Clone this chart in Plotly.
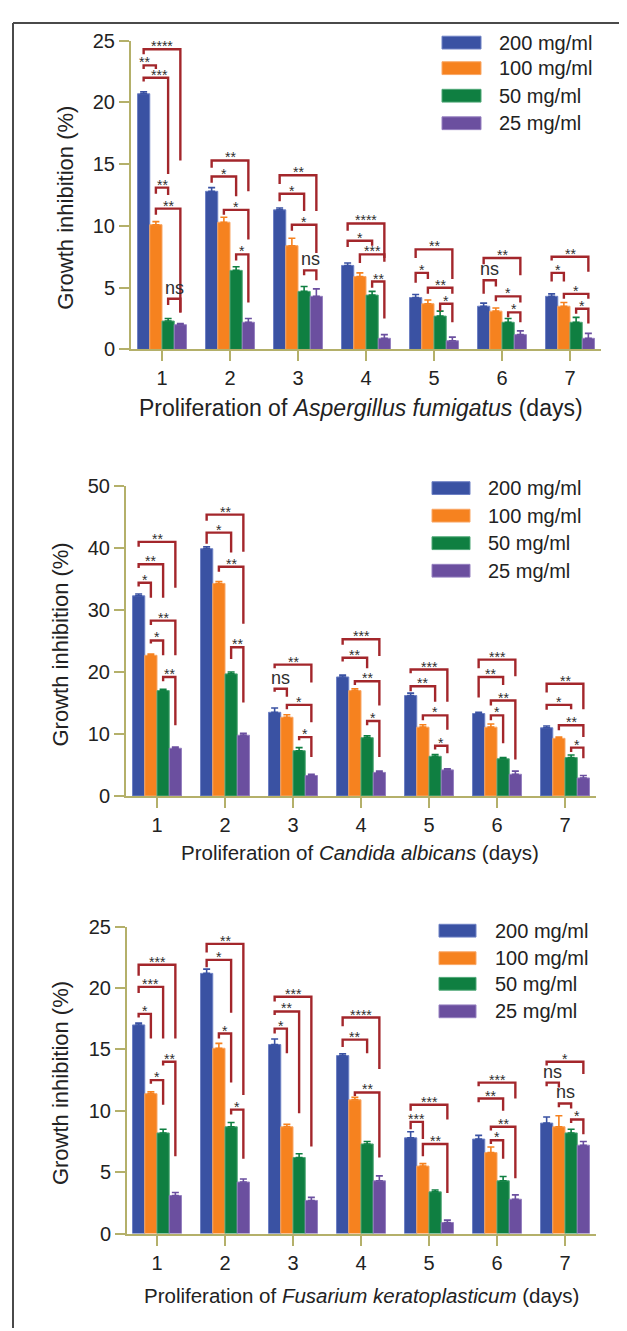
import plotly.graph_objects as go

W, H = 627, 1331

days = [1, 2, 3, 4, 5, 6, 7]
series_names = ["200 mg/ml", "100 mg/ml", "50 mg/ml", "25 mg/ml"]
bar_colors = ["#3a52a3", "#f6821f", "#0f7f41", "#6b4f9f"]
edge_colors = ["#6d80c4", "#f9a766", "#4fa877", "#9680c0"]

# ---------- Panel 1: Aspergillus fumigatus ----------
asp_200 = [20.7, 12.8, 11.3, 6.8, 4.2, 3.5, 4.3]
asp_100 = [10.1, 10.3, 8.4, 5.9, 3.7, 3.1, 3.5]
asp_50 = [2.3, 6.4, 4.7, 4.4, 2.7, 2.2, 2.2]
asp_25 = [2.0, 2.2, 4.3, 0.9, 0.7, 1.2, 0.9]
asp_200_err = [0.15, 0.3, 0.15, 0.2, 0.25, 0.25, 0.2]
asp_100_err = [0.25, 0.4, 0.6, 0.3, 0.3, 0.25, 0.3]
asp_50_err = [0.2, 0.3, 0.4, 0.3, 0.4, 0.3, 0.4]
asp_25_err = [0.1, 0.3, 0.6, 0.3, 0.3, 0.3, 0.4]
asp_yticks = [0, 5, 10, 15, 20, 25]
# (day, from bar, to bar, label, bracket height, left leg end, right leg end)
asp_brackets = [
    (1, 0, 3, "****", 24.3, 23.9, 15.3), (1, 0, 1, "**", 23.0, 22.7, 22.7),
    (1, 0, 2, "***", 22.0, 21.7, 14.2), (1, 1, 2, "**", 13.1, 12.6, 12.5),
    (1, 1, 3, "**", 11.4, 10.9, 3.0), (1, 2, 3, "ns", 4.1, 3.6, 3.0),
    (2, 0, 3, "**", 15.3, 14.7, 12.8), (2, 0, 2, "*", 14.0, 13.5, 12.4),
    (2, 1, 3, "*", 11.3, 10.9, 8.9), (2, 2, 3, "*", 7.7, 7.2, 3.8),
    (3, 0, 3, "**", 14.1, 13.4, 11.2), (3, 0, 2, "*", 12.6, 12.0, 11.2),
    (3, 1, 3, "*", 10.1, 9.6, 7.8), (3, 2, 3, "ns", 6.4, 6.0, 5.6),
    (4, 0, 3, "****", 10.2, 9.6, 7.4), (4, 0, 2, "*", 8.8, 8.3, 8.4),
    (4, 1, 3, "***", 7.7, 7.0, 7.1), (4, 2, 3, "**", 5.5, 5.0, 2.5),
    (5, 0, 3, "**", 8.1, 7.4, 5.7), (5, 0, 1, "*", 6.2, 5.4, 5.7),
    (5, 1, 3, "**", 5.0, 4.5, 4.5), (5, 2, 3, "*", 3.7, 3.1, 2.2),
    (6, 0, 3, "**", 7.4, 6.9, 6.0), (6, 0, 1, "ns", 5.6, 4.5, 5.1),
    (6, 1, 3, "*", 4.3, 3.9, 3.8), (6, 2, 3, "*", 3.0, 2.6, 2.2),
    (7, 0, 3, "**", 7.5, 7.2, 6.3), (7, 0, 1, "*", 6.2, 5.5, 5.5),
    (7, 1, 3, "*", 4.5, 4.1, 4.1), (7, 2, 3, "*", 3.3, 2.9, 2.1),
]

# ---------- Panel 2: Candida albicans ----------
can_200 = [32.3, 39.9, 13.5, 19.2, 16.2, 13.3, 11.0]
can_100 = [22.7, 34.3, 12.7, 17.0, 11.1, 11.1, 9.3]
can_50 = [17.0, 19.7, 7.3, 9.4, 6.4, 6.0, 6.2]
can_25 = [7.7, 9.8, 3.3, 3.8, 4.2, 3.5, 2.9]
can_200_err = [0.3, 0.3, 0.7, 0.3, 0.4, 0.2, 0.3]
can_100_err = [0.2, 0.3, 0.4, 0.3, 0.4, 0.5, 0.2]
can_50_err = [0.2, 0.3, 0.5, 0.3, 0.3, 0.2, 0.4]
can_25_err = [0.2, 0.3, 0.2, 0.2, 0.2, 0.5, 0.4]
can_yticks = [0, 10, 20, 30, 40, 50]
can_brackets = [
    (1, 0, 3, "**", 41.0, 40.2, 33.6), (1, 0, 2, "**", 37.4, 36.8, 32.0),
    (1, 0, 1, "*", 34.4, 33.8, 32.0), (1, 1, 3, "**", 28.3, 27.6, 22.7),
    (1, 1, 2, "*", 25.1, 24.6, 22.7), (1, 2, 3, "**", 19.2, 18.5, 11.4),
    (2, 0, 3, "**", 45.4, 44.4, 39.4), (2, 0, 2, "*", 42.5, 40.7, 39.3),
    (2, 1, 3, "**", 37.0, 36.2, 27.8), (2, 2, 3, "**", 24.0, 22.1, 15.1),
    (3, 0, 3, "**", 21.2, 20.6, 18.3), (3, 0, 1, "ns", 17.3, 16.8, 16.0),
    (3, 1, 3, "*", 14.7, 14.0, 11.9), (3, 2, 3, "*", 9.5, 9.0, 6.3),
    (4, 0, 3, "***", 25.3, 24.4, 22.6), (4, 0, 2, "**", 22.3, 21.7, 20.6),
    (4, 1, 3, "**", 18.5, 17.9, 14.6), (4, 2, 3, "*", 12.1, 11.4, 6.3),
    (5, 0, 3, "***", 20.4, 19.8, 15.2), (5, 0, 2, "**", 17.7, 16.9, 15.2),
    (5, 1, 3, "*", 13.0, 12.2, 10.7), (5, 2, 3, "*", 8.1, 7.5, 6.9),
    (6, 0, 3, "***", 22.0, 20.6, 19.3), (6, 0, 2, "**", 19.2, 15.9, 17.9),
    (6, 1, 3, "**", 15.4, 14.6, 5.9), (6, 1, 2, "*", 13.0, 12.2, 8.5),
    (7, 0, 3, "**", 18.1, 16.7, 14.0), (7, 0, 2, "*", 14.7, 13.9, 14.0),
    (7, 1, 3, "**", 11.4, 10.6, 9.5), (7, 2, 3, "*", 7.8, 7.1, 6.1),
]

# ---------- Panel 3: Fusarium keratoplasticum ----------
fus_200 = [17.0, 21.2, 15.4, 14.5, 7.8, 7.7, 9.0]
fus_100 = [11.4, 15.1, 8.7, 10.9, 5.5, 6.6, 8.7]
fus_50 = [8.2, 8.7, 6.2, 7.3, 3.4, 4.3, 8.2]
fus_25 = [3.1, 4.2, 2.7, 4.3, 0.9, 2.8, 7.2]
fus_200_err = [0.15, 0.35, 0.45, 0.15, 0.5, 0.3, 0.5]
fus_100_err = [0.15, 0.4, 0.2, 0.2, 0.2, 0.45, 0.9]
fus_50_err = [0.3, 0.35, 0.3, 0.2, 0.15, 0.35, 0.3]
fus_25_err = [0.25, 0.25, 0.25, 0.4, 0.2, 0.35, 0.3]
fus_yticks = [0, 5, 10, 15, 20, 25]
fus_brackets = [
    (1, 0, 3, "***", 21.9, 21.0, 15.9), (1, 0, 2, "***", 20.1, 19.6, 15.9),
    (1, 0, 1, "*", 17.9, 17.6, 15.9), (1, 2, 3, "**", 14.0, 13.7, 6.3),
    (1, 1, 2, "*", 12.5, 12.2, 10.5),
    (2, 0, 3, "**", 23.6, 22.9, 11.3), (2, 0, 2, "*", 22.3, 21.7, 18.0),
    (2, 1, 2, "*", 16.3, 15.9, 12.3), (2, 2, 3, "*", 10.1, 9.7, 6.1),
    (3, 0, 3, "***", 19.3, 18.9, 7.1), (3, 0, 2, "**", 18.1, 17.8, 9.8),
    (3, 0, 1, "*", 16.7, 16.3, 14.7),
    (4, 0, 3, "****", 17.6, 16.9, 13.4), (4, 0, 2, "**", 15.8, 15.2, 14.7),
    (4, 1, 3, "**", 11.5, 11.2, 6.2),
    (5, 0, 3, "***", 10.5, 10.0, 9.3), (5, 0, 1, "***", 9.1, 8.5, 7.7),
    (5, 1, 3, "**", 7.3, 6.3, 3.3),
    (6, 0, 3, "***", 12.3, 12.0, 11.0), (6, 0, 2, "**", 11.0, 10.7, 10.0),
    (6, 1, 3, "**", 8.7, 8.4, 4.5), (6, 1, 2, "*", 7.6, 7.3, 6.1),
    (7, 0, 3, "*", 14.0, 13.7, 13.0), (7, 0, 1, "ns", 12.3, 12.0, 11.9),
    (7, 1, 2, "ns", 10.6, 10.3, 10.2), (7, 2, 3, "*", 9.3, 9.0, 8.1),
]

x_titles = [
    "Proliferation of <i>Aspergillus fumigatus</i> (days)",
    "Proliferation of <i>Candida albicans</i> (days)",
    "Proliferation of <i>Fusarium keratoplasticum</i> (days)",
]
y_title = "Growth inhibition (%)"

# ---------- layout geometry (pixels) ----------
panels = [
    dict(vals=[asp_200, asp_100, asp_50, asp_25],
         errs=[asp_200_err, asp_100_err, asp_50_err, asp_25_err],
         brackets=asp_brackets, yticks=asp_yticks,
         x0=123, x1=593, day1=154, ytop=22, ybot=336,
         ytitle=(58, 192), xtitle=(353, 396), xtitle_size=23,
         label_nudge={1: -5, 2: 4},
         leg=dict(sx0=434, sx1=473, tx=489, rows=[24, 50, 78, 106])),
    dict(vals=[can_200, can_100, can_50, can_25],
         errs=[can_200_err, can_100_err, can_50_err, can_25_err],
         brackets=can_brackets, yticks=can_yticks,
         x0=118, x1=588, day1=149, ytop=475, ybot=790,
         ytitle=(52, 636), xtitle=(352, 848), xtitle_size=20.5,
         label_nudge={},
         leg=dict(sx0=424, sx1=462, tx=478, rows=[477, 505, 533, 561])),
    dict(vals=[fus_200, fus_100, fus_50, fus_25],
         errs=[fus_200_err, fus_100_err, fus_50_err, fus_25_err],
         brackets=fus_brackets, yticks=fus_yticks,
         x0=119, x1=588, day1=149, ytop=923, ybot=1235,
         ytitle=(52, 1082), xtitle=(353, 1298), xtitle_size=20.5,
         label_nudge={},
         leg=dict(sx0=431, sx1=468, tx=485, rows=[927, 955, 981, 1009])),
]
DAY_PX = 68
BARGAP = 0.28
BAR_W = (1 - BARGAP) / 4

AXIS_COLOR = "#b4b06a"
BRACKET_COLOR = "#a3262b"
FONT = "Liberation Sans, Arial, sans-serif"


def fx(x):
    return x / W


def fy(y):
    return 1 - y / H


fig = go.Figure()
annotations = []
shapes = []
layout_axes = {}

for k, p in enumerate(panels):
    sfx = "" if k == 0 else str(k + 1)
    xa, ya = "x" + sfx, "y" + sfx
    for s in range(4):
        fig.add_trace(go.Bar(
            x=days, y=p["vals"][s], name=series_names[s],
            xaxis=xa, yaxis=ya, showlegend=False,
            marker=dict(color=bar_colors[s], line=dict(color=edge_colors[s], width=1)),
            error_y=dict(type="data", array=p["errs"][s], arrayminus=[0] * len(days),
                         symmetric=False, color=bar_colors[s], thickness=1.6, width=3.5),
        ))
    # significance brackets
    bx, by = [], []
    for n, (d, i, j, lab, h, lb, rb) in enumerate(p["brackets"]):
        xi = d + (i - 1.5) * BAR_W
        xj = d + (j - 1.5) * BAR_W
        bx += [xi, xi, xj, xj, None]
        by += [lb, h, h, rb, None]
        is_ns = lab == "ns"
        annotations.append(dict(
            x=(xi + xj) / 2, y=h, xref=xa, yref=ya, text=lab, showarrow=False,
            yanchor="middle", yshift=11 if is_ns else 3,
            xshift=p["label_nudge"].get(n, 0),
            font=dict(family=FONT, size=18 if is_ns else 14, color="#2e2e2e"),
        ))
    fig.add_trace(go.Scatter(
        x=bx, y=by, mode="lines", xaxis=xa, yaxis=ya, showlegend=False,
        line=dict(color=BRACKET_COLOR, width=2.4), hoverinfo="skip", cliponaxis=False,
    ))

    lo = 1 - (p["day1"] - p["x0"]) / DAY_PX
    hi = lo + (p["x1"] - p["x0"]) / DAY_PX
    layout_axes["xaxis" + sfx] = dict(
        domain=[fx(p["x0"]), fx(p["x1"])], range=[lo, hi], anchor=ya,
        showline=True, linecolor=AXIS_COLOR, linewidth=2,
        ticks="outside", ticklen=10, tickwidth=2, tickcolor=AXIS_COLOR,
        tickvals=days, ticktext=[str(d) for d in days],
        tickfont=dict(family=FONT, size=20, color="#222222"),
        showgrid=False, zeroline=False, fixedrange=True,
    )
    layout_axes["yaxis" + sfx] = dict(
        domain=[fy(p["ybot"]), fy(p["ytop"])], range=[0, p["yticks"][-1]], anchor=xa,
        showline=True, linecolor=AXIS_COLOR, linewidth=2,
        ticks="outside", ticklen=10, tickwidth=2, tickcolor=AXIS_COLOR,
        tickvals=p["yticks"],
        tickfont=dict(family=FONT, size=20, color="#222222"),
        showgrid=False, zeroline=False, fixedrange=True,
    )
    # axis titles
    annotations.append(dict(
        x=fx(p["ytitle"][0]), y=fy(p["ytitle"][1]), xref="paper", yref="paper",
        text=y_title, textangle=-90, showarrow=False, xanchor="center", yanchor="middle",
        font=dict(family=FONT, size=22, color="#222222"),
    ))
    annotations.append(dict(
        x=fx(p["xtitle"][0]), y=fy(p["xtitle"][1]), xref="paper", yref="paper",
        text=x_titles[k], showarrow=False, xanchor="center", yanchor="middle",
        font=dict(family=FONT, size=p["xtitle_size"], color="#222222"),
    ))
    # legend (drawn manually to match swatch shape)
    lg = p["leg"]
    for s in range(4):
        yc = lg["rows"][s]
        shapes.append(dict(
            type="rect", xref="paper", yref="paper",
            x0=fx(lg["sx0"]), x1=fx(lg["sx1"]), y0=fy(yc + 6.5), y1=fy(yc - 6.5),
            fillcolor=bar_colors[s], line=dict(color=edge_colors[s], width=1),
        ))
        annotations.append(dict(
            x=fx(lg["tx"]), y=fy(yc), xref="paper", yref="paper",
            text=series_names[s], showarrow=False, xanchor="left", yanchor="middle",
            font=dict(family=FONT, size=20, color="#222222"),
        ))

# outer frame
frame = "#4a4a4a"
shapes += [
    dict(type="line", xref="paper", yref="paper", x0=fx(5), x1=fx(622), y0=fy(4), y1=fy(4),
         line=dict(color=frame, width=2)),
    dict(type="line", xref="paper", yref="paper", x0=fx(5), x1=fx(5), y0=fy(4), y1=fy(1331),
         line=dict(color=frame, width=2)),
    dict(type="line", xref="paper", yref="paper", x0=fx(622), x1=fx(622), y0=fy(4), y1=fy(1331),
         line=dict(color=frame, width=2)),
]

fig.update_layout(
    width=W, height=H, margin=dict(l=0, r=0, t=0, b=0),
    paper_bgcolor="white", plot_bgcolor="white",
    barmode="group", bargap=BARGAP, bargroupgap=0,
    annotations=annotations, shapes=shapes,
    font=dict(family=FONT, color="#222222"),
    **layout_axes,
)

fig.write_html("out.html")
